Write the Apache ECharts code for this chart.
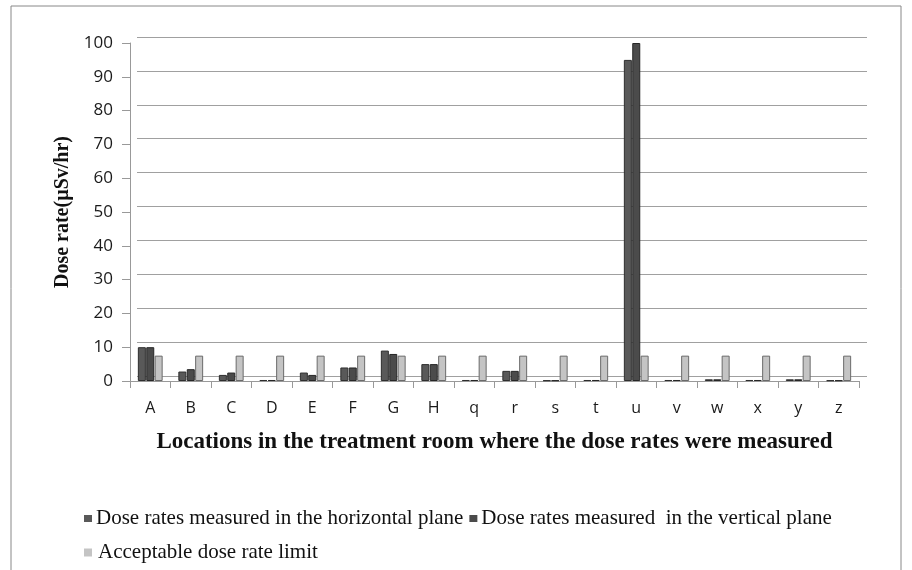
<!DOCTYPE html>
<html><head><meta charset="utf-8">
<script src="https://cdn.jsdelivr.net/npm/echarts@6/dist/echarts.min.js"></script>
<style>html,body{margin:0;padding:0;background:#fff}#c{width:912px;height:570px}</style>
</head><body><div id="c"></div>
<script>
const categories = ['A','B','C','D','E','F','G','H','q','r','s','t','u','v','w','x','y','z'];
const horizontal = [10, 2.8, 1.8, 0.3, 2.5, 4, 9, 5, 0.3, 3, 0.2, 0.3, 95, 0.3, 0.5, 0.3, 0.5, 0.2];
const vertical   = [10, 3.5, 2.5, 0.3, 1.8, 4, 8, 5, 0.3, 3, 0.2, 0.3, 100, 0.3, 0.5, 0.3, 0.5, 0.2];
const limit      = [7.5,7.5,7.5,7.5,7.5,7.5,7.5,7.5,7.5,7.5,7.5,7.5,7.5,7.5,7.5,7.5,7.5,7.5];
const seriesNames = ['Dose rates measured in the horizontal plane','Dose rates measured  in the vertical plane','Acceptable dose rate limit'];

const chart = echarts.init(document.getElementById('c'), null, {renderer:'canvas'});
const serif = '"Liberation Serif","DejaVu Serif",serif';
const sans = '"Open Sans","Liberation Sans",sans-serif';
chart.setOption({
  animation:false,
  graphic:[{type:'rect',shape:{x:11,y:6,width:890,height:620},style:{fill:'none',stroke:'#888',lineWidth:1},silent:true}],
  grid:[
    {left:130,right:53,top:43,bottom:189},
    {left:137,right:45,top:37,bottom:194}
  ],
  legend:[
    {data:[seriesNames[0],seriesNames[1]],left:79,top:503,itemWidth:8,itemHeight:7,itemGap:6,icon:'rect',
     itemStyle:{borderWidth:0},
     textStyle:{fontFamily:serif,fontSize:21,color:'#111',padding:[0,0,0,-1]}},
    {data:[seriesNames[2]],left:79,top:537,itemWidth:8,itemHeight:8,icon:'rect',
     itemStyle:{borderWidth:0},
     textStyle:{fontFamily:serif,fontSize:21,color:'#111',padding:[0,0,0,1]}}
  ],
  xAxis:[
    {type:'category',data:categories,gridIndex:0,
     name:'Locations in the treatment room where the dose rates were measured',
     nameLocation:'middle',nameGap:50,
     nameTextStyle:{fontFamily:serif,fontWeight:'bold',fontSize:23,color:'#111'},
     axisLine:{lineStyle:{color:'#999'}},axisTick:{show:true,length:7,lineStyle:{color:'#999'}},
     axisLabel:{fontFamily:sans,fontSize:16,color:'#1a1a1a',margin:19}},
    {type:'category',data:categories,gridIndex:1,show:false}
  ],
  yAxis:[
    {type:'value',min:0,max:100,interval:10,gridIndex:0,
     name:'Dose rate(µSv/hr)',nameLocation:'middle',nameGap:54,
     nameTextStyle:{fontFamily:serif,fontWeight:'bold',fontSize:20,color:'#111'},
     axisLine:{show:true,lineStyle:{color:'#999'}},axisTick:{show:true,length:8,lineStyle:{color:'#999'}},
     axisLabel:{fontFamily:sans,fontSize:17,color:'#1a1a1a',margin:17},
     splitLine:{show:false}},
    {type:'value',min:0,max:100,interval:10,gridIndex:1,
     axisLine:{show:false},axisTick:{show:false},axisLabel:{show:false},
     splitLine:{lineStyle:{color:'#a0a0a0'}}}
  ],
  series:[
    {name:seriesNames[0],type:'bar',data:horizontal,barWidth:8,barGap:'5%',z:3,
     itemStyle:{color:'#595959',borderColor:'#2e2e2e',borderWidth:1}},
    {name:seriesNames[1],type:'bar',data:vertical,barWidth:8,barGap:'5%',z:3,
     itemStyle:{color:'#4b4b4b',borderColor:'#262626',borderWidth:1}},
    {name:seriesNames[2],type:'bar',data:limit,barWidth:8,barGap:'5%',z:3,
     itemStyle:{color:'#c4c4c4',borderColor:'#6a6a6a',borderWidth:1}}
  ]
});
</script></body></html>
